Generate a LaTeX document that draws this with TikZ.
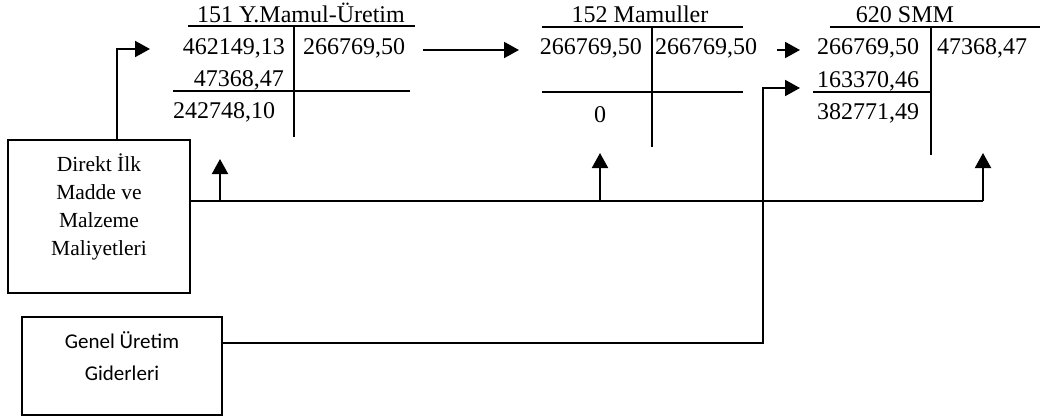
\documentclass[tikz,border=0pt]{standalone}
\usepackage{fontspec}
\setmainfont{Liberation Serif}
\newfontfamily\calib{Carlito}
\usetikzlibrary{arrows.meta}
\tikzset{
  ln/.style={line width=2pt},
  arr/.style={line width=2pt,-{Triangle[length=15pt,width=16pt]}},
  num/.style={inner sep=0pt,font=\fontsize{24}{28}\selectfont},
  boxn/.style={draw,line width=2pt,inner sep=0pt},
}
\begin{document}
\begin{tikzpicture}[x=1pt,y=-1pt]
\useasboundingbox (0,0) rectangle (1041,417);
% ---- 151 account
\node[num,anchor=base] (t151) at (301,23) {151 Y.Mamul-Üretim};
\draw[ln] (188,26) -- (415,26);
\draw[ln] (294,26) -- (294,137);
\draw[ln] (173,91) -- (410,91);
\node[num,anchor=base east] (a1) at (285,55) {462149,13};
\node[num,anchor=base west] (a2) at (303,55) {266769,50};
\node[num,anchor=base east] (a3) at (284,87) {47368,47};
\node[num,anchor=base west] (a4) at (173,119) {242748,10};
% ---- 152 account
\node[num,anchor=base] (t152) at (640,23) {152 Mamuller};
\draw[ln] (542,27) -- (743,27);
\draw[ln] (652,27) -- (652,147);
\draw[ln] (542,92) -- (743,92);
\node[num,anchor=base east] (b1) at (642,55) {266769,50};
\node[num,anchor=base west] (b2) at (655,55) {266769,50};
\node[num,anchor=base] (b3) at (600,123) {0};
% ---- 620 account
\node[num,anchor=base] (t620) at (905,23) {620 SMM};
\draw[ln] (830,27) -- (1040,27);
\draw[ln] (931,27) -- (931,155);
\draw[ln] (813,92) -- (931,92);
\node[num,anchor=base west] (c1) at (817,55) {266769,50};
\node[num,anchor=base west] (c2) at (937,55) {47368,47};
\node[num,anchor=base west] (c3) at (817,88) {163370,46};
\node[num,anchor=base west] (c4) at (817,120) {382771,49};
% ---- boxes
\node[boxn,minimum width=182pt,minimum height=153pt] (dbox) at (99,216.5) {};
\node[inner sep=0pt,anchor=base,align=center,font=\fontsize{21.5}{28}\selectfont] (dtext) at (99,255)
  {Direkt İlk\\Madde ve\\Malzeme\\Maliyetleri};
\node[boxn,minimum width=200pt,minimum height=98pt] (gbox) at (122,366) {};
\node[inner sep=0pt,anchor=base,align=center,font=\calib\fontsize{21}{32}\selectfont] (gtext) at (122,380)
  {Genel Üretim\\Giderleri};
% ---- connector points
\coordinate (p1) at (150,49);
\coordinate (p2) at (423,50);
\coordinate (p3) at (519,50);
\coordinate (p4) at (777,50);
\coordinate (p5) at (800,50);
\coordinate (p6) at (800,88);
\coordinate (h0) at (190,201);
\coordinate (h1) at (220,201);
\coordinate (h2) at (600,201);
\coordinate (h3) at (983,201);
\coordinate (u1) at (220,159);
\coordinate (u2) at (600,153);
\coordinate (u3) at (983,153);
\coordinate (g0) at (222,343);
\coordinate (g1) at (763,343);
% ---- connectors
\draw[arr] (dbox.north -| 117,0) |- (p1);
\draw[arr] (p2) -- (p3);
\draw[arr] (p4) -- (p5);
\draw[ln] (h0) -- (h3);
\draw[arr] (h1) -- (u1);
\draw[arr] (h2) -- (u2);
\draw[arr] (h3) -- (u3);
\draw[arr] (g0) -- (g1) |- (p6);
\end{tikzpicture}
\end{document}
